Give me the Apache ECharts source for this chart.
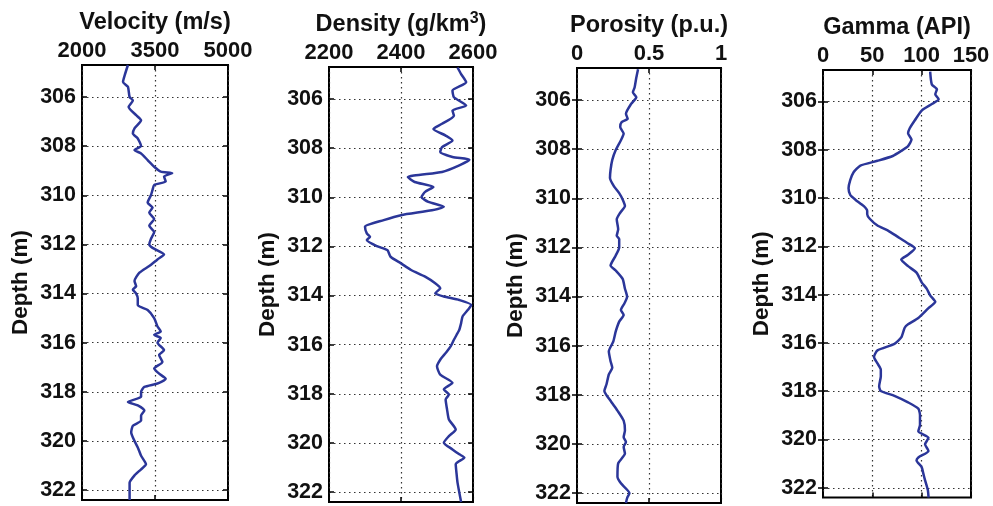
<!DOCTYPE html>
<html><head><meta charset="utf-8">
<script src="https://cdn.jsdelivr.net/npm/echarts@6/dist/echarts.min.js"></script>
<style>html,body{margin:0;padding:0;background:#fff}#c{width:993px;height:506px}</style>
</head><body><div id="c"></div>
<script>
// ---- data ----
const depthTicks = [306, 308, 310, 312, 314, 316, 318, 320, 322];

const velTicks = [2000, 3500, 5000];
const velDepth = [304.7,305.12,305.39,305.59,306,306.14,306.41,306.74,306.95,307.28,307.49,307.69,308,308.16,308.3,308.57,308.84,309.04,309.1,309.24,309.44,309.58,309.78,310,310.3,310.5,310.7,310.97,311.24,311.5,311.78,312,312.14,312.41,312.61,312.88,313.15,313.49,313.7,313.84,314,314.2,314.47,314.67,315,315.34,315.54,315.68,315.81,316,316.3,316.5,316.78,317.05,317.26,317.47,317.66,317.8,318,318.2,318.41,318.55,318.76,318.96,319.17,319.38,319.65,320,320.26,320.6,320.95,321.15,321.4,321.7,322.4];
const velValue = [2944,2877,2843,2944,2978,3045,2958,3113,3214,3079,3045,3146,3214,3079,3214,3349,3483,3618,3854,3686,3720,3483,3450,3416,3349,3450,3382,3483,3382,3483,3416,3382,3450,3686,3551,3382,3180,3079,3113,3045,3113,3146,3146,3349,3483,3551,3618,3483,3618,3551,3686,3585,3652,3483,3585,3720,3551,3281,3214,3214,2944,3146,3281,3214,3214,3045,3011,3079,3146,3214,3315,3214,3079,2978,2978];

const denTicks = [2200, 2400, 2600];
const denDepth = [304.72,304.99,305.32,305.66,305.93,306.27,306.47,306.68,307.01,307.22,307.49,307.69,307.96,308.16,308.36,308.47,308.7,308.97,309.18,309.38,309.58,309.78,309.99,310.19,310.39,310.53,310.73,310.93,311.2,311.47,311.61,311.74,311.99,312.15,312.42,312.69,312.96,313.23,313.5,313.7,313.91,314.04,314.18,314.38,314.58,314.85,315.12,315.39,315.53,315.8,316.07,316.34,316.61,316.88,317.22,317.55,317.82,318.03,318.23,318.64,319.04,319.45,319.72,319.99,320.26,320.46,320.59,320.86,321.2,321.61,322.4];
const denValue = [2557,2567,2581,2543,2547,2581,2543,2547,2514,2490,2524,2543,2514,2509,2543,2590,2562,2514,2419,2438,2490,2467,2457,2476,2519,2486,2400,2352,2300,2305,2314,2305,2333,2362,2371,2400,2428,2467,2495,2509,2495,2519,2562,2595,2586,2571,2567,2562,2557,2547,2538,2524,2509,2500,2509,2543,2519,2533,2524,2528,2533,2552,2533,2519,2543,2562,2576,2552,2554,2557,2567];

const porTicks = [0, 0.5, 1];
const porDepth = [304.75,305.09,305.49,305.69,305.89,306.16,306.56,306.77,306.9,307.1,307.37,307.64,308.04,308.44,308.85,309.18,309.52,309.79,310.05,310.32,310.59,310.86,311.26,311.53,311.66,312,312.33,312.74,312.94,313.28,313.68,314.01,314.28,314.55,314.75,315.02,315.42,315.83,316.23,316.63,316.9,317.17,317.57,317.84,318.24,318.64,319.05,319.45,319.72,319.92,320.12,320.39,320.79,321.33,321.6,322.0,322.2,322.4];
const porValue = [0.424,0.412,0.40,0.388,0.412,0.376,0.34,0.352,0.31,0.30,0.324,0.305,0.269,0.245,0.233,0.229,0.257,0.293,0.317,0.333,0.30,0.276,0.286,0.276,0.293,0.293,0.269,0.233,0.269,0.317,0.333,0.348,0.329,0.305,0.324,0.293,0.269,0.252,0.221,0.233,0.245,0.221,0.205,0.19,0.233,0.281,0.324,0.333,0.324,0.34,0.324,0.333,0.286,0.281,0.305,0.364,0.348,0.34];

const gamTicks = [0, 50, 100, 150];
const gamDepth = [304.77,305.3,305.5,305.7,305.91,306.11,306.38,306.78,307.11,307.32,307.58,307.85,308.05,308.26,308.46,308.66,308.93,309.26,309.6,309.87,310.07,310.34,310.54,310.67,310.87,311.14,311.34,311.61,311.88,312.08,312.35,312.55,312.82,313.09,313.49,313.76,314.03,314.3,314.56,314.97,315.23,315.37,315.77,316.04,316.31,316.58,316.85,317.11,317.38,317.79,317.99,318.19,318.46,318.72,318.99,319.4,319.66,319.93,320.2,320.47,320.74,320.87,321.14,321.41,321.68,322.08,322.4];
const gamValue = [108.6,110.3,115.5,113.8,117.2,110.3,100,93.1,87.9,86.2,89.7,86.2,79.3,70.7,55.2,37.9,31,27.6,25.9,27.6,32.8,41.4,44.8,44.8,47.6,55.2,65.5,75.9,86.2,93.1,86.2,79.3,86.2,94.8,100,105.2,108.6,113.8,106.9,96.6,86.2,82.8,79.3,72.4,55.2,51.7,55.2,58.6,58.6,56.9,58.6,72.4,86.2,96.6,98.3,98.3,96.6,106.9,103.4,106.9,96.6,94.8,100,101.7,103.4,106.2,107];

const titles = ['{a|Velocity (m/s)}', '{a|Density (g/km}{s|3}{a|)}', '{a|Porosity (p.u.)}', '{a|Gamma (API)}'];
const depthName = 'Depth (m)';

// ---- layout / style ----
const FONT = 'Liberation Sans, Arial, Helvetica, sans-serif';
const TXT = '#111';
const LINE = '#2B3699';
const depthMin = 304.7, depthMax = 322.4;

const panels = [
  {depth: velDepth, value: velValue, ticks: velTicks, left: 82, width: 146, top: 65},
  {depth: denDepth, value: denValue, ticks: denTicks, left: 329, width: 144, top: 67},
  {depth: porDepth, value: porValue, ticks: porTicks, left: 577, width: 144, top: 68},
  {depth: gamDepth, value: gamValue, ticks: gamTicks, left: 823, width: 148, top: 70}
];

const grid = [], xAxis = [], yAxis = [], series = [];
const dotted = {show: true, lineStyle: {type: [1.5, 3.5], color: '#333', width: 1.2}};
const plain = v => String(v);
panels.forEach((p, i) => {
  grid.push({left: p.left, top: p.top, width: p.width, height: 435, show: true,
    borderColor: '#000', borderWidth: 2, backgroundColor: 'transparent'});
  const tmin = p.ticks[0], tmax = p.ticks[p.ticks.length - 1];
  xAxis.push({
    gridIndex: i, type: 'value', position: 'top', min: tmin, max: tmax,
    name: titles[i], nameLocation: 'middle', nameGap: 28,
    nameTextStyle: {fontFamily: FONT, fontWeight: 'bold', fontSize: 23.5, color: TXT,
      rich: {
        a: {fontFamily: FONT, fontWeight: 'bold', fontSize: 23.5, color: TXT, lineHeight: 28},
        s: {fontFamily: FONT, fontWeight: 'bold', fontSize: 16, color: TXT, lineHeight: 16, verticalAlign: 'top'}
      }},
    axisLine: {show: false},
    axisTick: {show: true, inside: true, length: 5, customValues: p.ticks, lineStyle: {color: '#000', width: 1.5}},
    axisLabel: {customValues: p.ticks, formatter: plain, fontFamily: FONT, fontWeight: 'bold', fontSize: 22, color: TXT, margin: 3},
    splitLine: dotted
  });
  xAxis.push({
    gridIndex: i, type: 'value', position: 'bottom', min: tmin, max: tmax,
    axisLine: {show: false},
    axisTick: {show: true, inside: true, length: 5, customValues: p.ticks, lineStyle: {color: '#000', width: 1.5}},
    axisLabel: {show: false}, splitLine: {show: false}
  });
  yAxis.push({
    gridIndex: i, type: 'value', position: 'left', inverse: true, min: depthMin, max: depthMax,
    name: depthName, nameLocation: 'middle', nameGap: 50,
    nameTextStyle: {fontFamily: FONT, fontWeight: 'bold', fontSize: 22.5, color: TXT},
    axisLine: {show: false},
    axisTick: {show: true, inside: true, length: 5, customValues: depthTicks, lineStyle: {color: '#000', width: 1.5}},
    axisLabel: {customValues: depthTicks, formatter: plain, fontFamily: FONT, fontWeight: 'bold', fontSize: 21.5, color: TXT, margin: 6},
    splitLine: dotted
  });
  yAxis.push({
    gridIndex: i, type: 'value', position: 'right', inverse: true, min: depthMin, max: depthMax,
    axisLine: {show: false},
    axisTick: {show: true, inside: true, length: 5, customValues: depthTicks, lineStyle: {color: '#000', width: 1.5}},
    axisLabel: {show: false}, splitLine: {show: false}
  });
  const n = Math.min(p.depth.length, p.value.length);
  const data = [];
  for (let k = 0; k < n; k++) data.push([p.value[k], p.depth[k]]);
  series.push({
    type: 'line', xAxisIndex: 2 * i, yAxisIndex: 2 * i, data: data,
    showSymbol: false, smooth: 0.2, lineStyle: {color: LINE, width: 2.5}, z: 5
  });
});

const chart = echarts.init(document.getElementById('c'), null, {renderer: 'canvas'});
chart.setOption({
  backgroundColor: '#fff', animation: false,
  grid: grid, xAxis: xAxis, yAxis: yAxis, series: series
});
</script>
</body></html>
